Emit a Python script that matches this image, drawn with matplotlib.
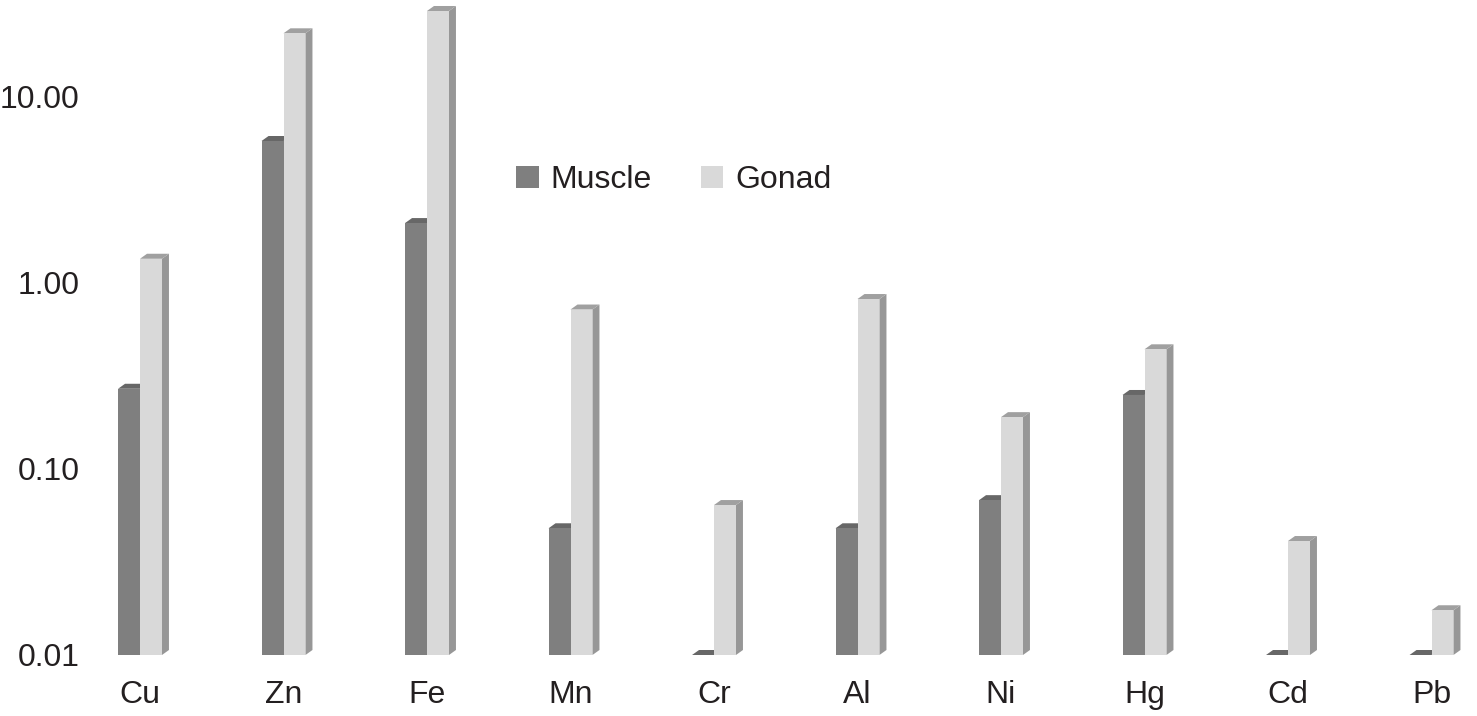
import numpy as np
import matplotlib.pyplot as plt
from matplotlib.patches import Polygon, Patch
from matplotlib.ticker import FixedLocator, FixedFormatter

plt.rcParams["font.family"] = ["Liberation Sans", "DejaVu Sans"]

# data
elements = ["Cu", "Zn", "Fe", "Mn", "Cr", "Al", "Ni", "Hg", "Cd", "Pb"]
muscle = [0.27, 5.8, 2.1, 0.048, 0.01, 0.048, 0.068, 0.25, 0.01, 0.01]
gonad = [1.35, 22.0, 29.0, 0.72, 0.064, 0.82, 0.19, 0.44, 0.041, 0.0174]
yticks = [0.01, 0.1, 1, 10]
ytick_labels = ["0.01", "0.10", "1.00", "10.00"]

W, H, DPI = 1477, 716, 100
fig = plt.figure(figsize=(W / DPI, H / DPI), dpi=DPI)
ax = fig.add_axes([95 / W, 61 / H, 1 - 95 / W, 655 / H])

ax.set_yscale("log")
ymin, ymax = 0.01, 10 ** (655 / 186 - 2)
ax.set_ylim(ymin, ymax)
ax.set_xlim((95 - 140) / 143.5, (W - 140) / 143.5)

text_col = "#231f20"
fs = 23
bw = 0.153
dx = 7 / 143.5           # depth offset in data x
fy = 10 ** (5 / 186)     # depth offset as log factor


def bar3d(x0, val, front, side, top):
    x1 = x0 + bw
    ax.bar(x0, val - ymin, bottom=ymin, width=bw, align="edge",
           color=front, linewidth=0, zorder=3)
    ax.add_patch(Polygon([(x1, ymin), (x1 + dx, ymin * fy), (x1 + dx, val * fy), (x1, val)],
                         closed=True, facecolor=side, linewidth=0, zorder=2))
    ax.add_patch(Polygon([(x0, val), (x0 + dx, val * fy), (x1 + dx, val * fy), (x1, val)],
                         closed=True, facecolor=top, linewidth=0, zorder=2))


x = np.arange(len(elements))
for i in x:
    bar3d(i, gonad[i], "#d9d9d9", "#979797", "#a0a0a0")
for i in x:
    bar3d(i - bw, muscle[i], "#7f7f7f", "#666666", "#676767")

ax.yaxis.set_major_locator(FixedLocator(yticks))
ax.yaxis.set_major_formatter(FixedFormatter(ytick_labels))
ax.yaxis.set_minor_locator(FixedLocator([]))
ax.set_xticks(x)
ax.set_xticklabels(elements)
ax.tick_params(axis="both", length=0, labelsize=fs, colors=text_col)
ax.tick_params(axis="y", pad=11)
ax.tick_params(axis="x", pad=18)
for s in ax.spines.values():
    s.set_visible(False)

handles = [Patch(facecolor="#7f7f7f", label="Muscle"),
           Patch(facecolor="#d9d9d9", label="Gonad")]
fig.legend(handles=handles, loc="center", bbox_to_anchor=(674 / W, 1 - 180 / H),
           ncol=2, frameon=False, fontsize=fs, handlelength=0.69, handleheight=0.69,
           handletextpad=0.37, columnspacing=1.56, labelcolor=text_col)

fig.savefig("out.png", dpi=DPI)
